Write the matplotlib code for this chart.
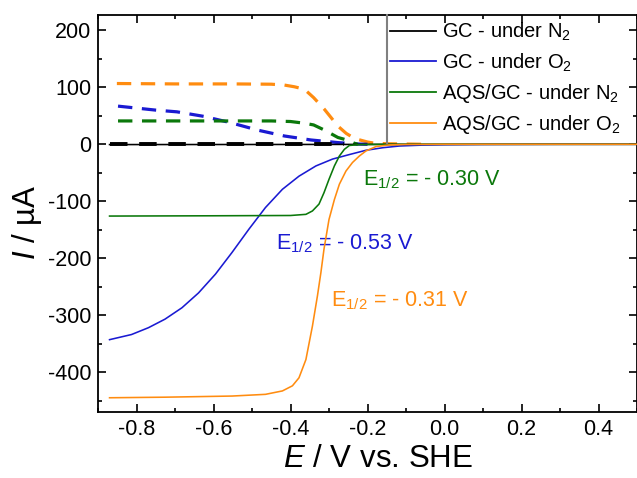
import matplotlib
matplotlib.use("Agg")
import matplotlib.pyplot as plt
from matplotlib.ticker import MultipleLocator
from matplotlib.lines import Line2D

plt.rcParams['font.family'] = ['Liberation Sans', 'DejaVu Sans']
plt.rcParams['mathtext.fontset'] = 'custom'
plt.rcParams['mathtext.rm'] = 'Liberation Sans'
plt.rcParams['mathtext.it'] = 'Liberation Sans:italic'
plt.rcParams['mathtext.bf'] = 'Liberation Sans:bold'

# ---------------- data ----------------
# solid curves (disk current)
gc_n2_x = [-0.87, -0.4, 0.0, 0.5]
gc_n2_y = [-0.5, -0.3, -0.1, 0.0]

gc_o2_x = [-0.87, -0.813, -0.769, -0.726, -0.682, -0.639, -0.595, -0.552, -0.508,
           -0.465, -0.421, -0.378, -0.334, -0.291, -0.247, -0.204, -0.160, -0.117,
           -0.06, 0.0, 0.1, 0.3, 0.5]
gc_o2_y = [-343, -334, -322, -307, -287, -261, -228, -190, -149,
           -111, -79, -56, -38, -26, -18, -10.5, -6, -3,
           -1.5, -0.8, -0.3, 0, 0]

aqs_n2_x = [-0.87, -0.6, -0.4, -0.36, -0.343, -0.326, -0.313, -0.30, -0.286,
            -0.273, -0.26, -0.247, -0.22, -0.15, 0.0, 0.5]
aqs_n2_y = [-126, -125.5, -125, -123, -117, -105, -85, -61.5, -38,
            -20.5, -8.8, -2, -0.5, 0, 0, 0]

aqs_o2_x = [-0.87, -0.726, -0.552, -0.465, -0.421, -0.395, -0.378, -0.36, -0.343,
            -0.33, -0.321, -0.313, -0.30, -0.286, -0.273, -0.256, -0.239, -0.221,
            -0.204, -0.178, -0.143, -0.1, 0.0, 0.5]
aqs_o2_y = [-445, -444, -442, -439, -433, -424, -410, -378, -319,
            -266, -225, -184, -132, -97, -70, -47, -32, -20.5,
            -11.7, -4, -1, -0.3, 0, 0]

# dashed curves
gc_n2_d_x = [-0.87, -0.26]
gc_n2_d_y = [0, 0]

gc_o2_d_x = [-0.848, -0.75, -0.695, -0.625, -0.556, -0.486, -0.416, -0.347, -0.277, -0.225, -0.2]
gc_o2_d_y = [67, 60, 57, 49, 38, 25, 14.6, 7.6, 3, 0.5, 0]

aqs_n2_d_x = [-0.848, -0.6, -0.45, -0.4, -0.364, -0.34, -0.312, -0.277, -0.251, -0.235, -0.225]
aqs_n2_d_y = [41, 41, 41, 40, 37, 34, 25, 12, 7, 2, 0]

aqs_o2_d_x = [-0.851, -0.7, -0.55, -0.45, -0.416, -0.39, -0.364, -0.34, -0.312, -0.29,
              -0.277, -0.255, -0.233, -0.2, -0.181, -0.15, -0.1, -0.05]
aqs_o2_d_y = [106.7, 106, 106, 105.5, 104, 101, 96.7, 82, 61.5, 43,
              32, 19, 10, 4, 1.8, 1, 0.5, 0]

labels = ["GC - under N$_2$", "GC - under O$_2$",
          "AQS/GC - under N$_2$", "AQS/GC - under O$_2$"]
annotations = [(-0.211, -72, r"E$_{1/2}$ = - 0.30 V"),
               (-0.438, -184.5, r"E$_{1/2}$ = - 0.53 V"),
               (-0.294, -285, r"E$_{1/2}$ = - 0.31 V")]

c_black = '#000000'
c_blue = '#1a1ad2'
c_green = '#0b780b'
c_orange = '#ff8c10'

# ---------------- figure ----------------
fig = plt.figure(figsize=(6.37, 4.78), dpi=100)
ax = fig.add_axes([98 / 637, (478 - 412) / 478, 1 - 98 / 637, (412 - 15) / 478])

dash = (4.5, 3)
lw_d = 2.3
ax.plot(aqs_o2_d_x, aqs_o2_d_y, color=c_orange, lw=lw_d, dashes=dash, zorder=2)
ax.plot(gc_o2_d_x, gc_o2_d_y, color=c_blue, lw=lw_d, dashes=dash, zorder=2)
ax.plot(aqs_n2_d_x, aqs_n2_d_y, color=c_green, lw=lw_d, dashes=dash, zorder=2)

lw_s = 1.15
ax.plot(gc_n2_x, gc_n2_y, color=c_black, lw=lw_s, zorder=3)
ax.plot(gc_n2_d_x, gc_n2_d_y, color=c_black, lw=lw_d + 0.5, dashes=dash, zorder=3)
ax.plot(gc_o2_x, gc_o2_y, color=c_blue, lw=lw_s, zorder=3)
ax.plot(aqs_n2_x, aqs_n2_y, color=c_green, lw=lw_s, zorder=3)
ax.plot(aqs_o2_x, aqs_o2_y, color=c_orange, lw=lw_s, zorder=3)

for (x, y, s), c in zip(annotations, [c_green, c_blue, c_orange]):
    ax.text(x, y, s, color=c, fontsize=15.5, va='baseline', ha='left', zorder=1)

ax.set_xlim(-0.9, 0.5)
ax.set_ylim(-470, 227)

ax.xaxis.set_major_locator(MultipleLocator(0.2))
ax.xaxis.set_minor_locator(MultipleLocator(0.1))
ax.yaxis.set_major_locator(MultipleLocator(100))
ax.yaxis.set_minor_locator(MultipleLocator(50))
ax.xaxis.set_major_formatter(plt.FuncFormatter(lambda v, p: f"{v:.1f}".replace("-0.0", "0.0")))
ax.yaxis.set_major_formatter(plt.FuncFormatter(lambda v, p: f"{v:.0f}"))

ax.tick_params(which='both', direction='in', top=True, right=True, width=1.2,
               labelsize=15.5, pad=5)
ax.tick_params(which='major', length=5.5)
ax.tick_params(which='minor', length=3)
for sp in ax.spines.values():
    sp.set_linewidth(1.3)

ax.set_xlabel(r"$\mathit{E}$ / V vs. SHE", fontsize=22.5)
ax.set_ylabel(r"$\mathit{I}$ / µA", fontsize=22.5)
ax.xaxis.set_label_coords(0.52, -0.08, transform=ax.transAxes)
ax.xaxis.label.set_va('top')
ax.yaxis.set_label_coords(-0.1, 0.478, transform=ax.transAxes)

handles = [Line2D([], [], color=c, lw=1.3) for c in [c_black, c_blue, c_green, c_orange]]
leg = ax.legend(handles, labels, loc='upper left', bbox_to_anchor=(0.5417, 0.985),
                frameon=False, fontsize=14.5, handlelength=2.3, handletextpad=0.3,
                labelspacing=0.4, borderpad=0.0, borderaxespad=0)

ax.plot([0.536, 0.536], [0.678, 1.0], transform=ax.transAxes, color='#808080',
        lw=1.5, zorder=4, clip_on=False)

fig.savefig("out.png", dpi=100)
